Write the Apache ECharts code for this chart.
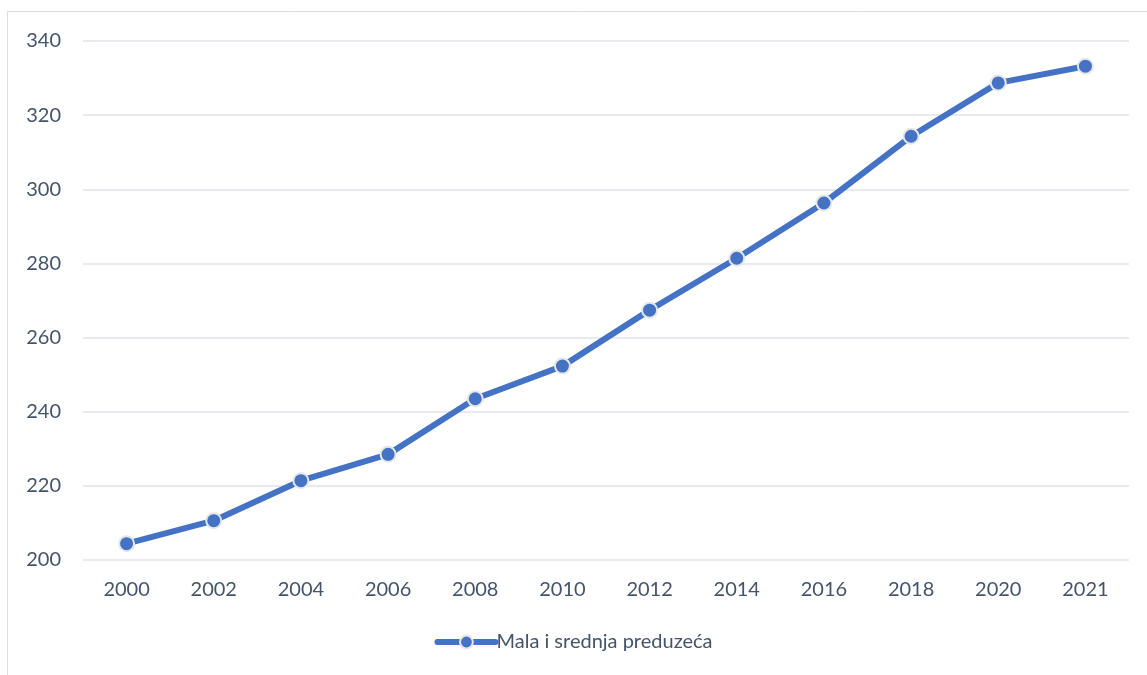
<!DOCTYPE html>
<html>
<head>
<meta charset="utf-8">
<script src="https://cdn.jsdelivr.net/npm/echarts@6/dist/echarts.min.js"></script>
<style>
html,body{margin:0;padding:0;background:#fff;}
#chart{width:1147px;height:675px;}
</style>
</head>
<body>
<div id="chart"></div>
<script>
const categories = ['2000','2002','2004','2006','2008','2010','2012','2014','2016','2018','2020','2021'];
const seriesName = 'Mala i srednja preduzeća';
const values = [204.4, 210.6, 221.4, 228.5, 243.5, 252.3, 267.4, 281.4, 296.3, 314.3, 328.7, 333.2];
const yMin = 200, yMax = 340, yStep = 20;

const textColor = '#44546A';
const lineColor = '#4472C4';
const font = 'Lato, "Open Sans", sans-serif';

const chart = echarts.init(document.getElementById('chart'));
chart.setOption({
  animation: false,
  backgroundColor: '#fff',
  graphic: [{
    type: 'rect',
    shape: {x: 7.5, y: 11.5, width: 1200, height: 700},
    style: {fill: 'none', stroke: '#d9dde3', lineWidth: 1},
    silent: true
  }],
  grid: {left: 83, right: 18, top: 41, bottom: 115},
  xAxis: {
    type: 'category',
    data: categories,
    boundaryGap: true,
    axisLine: {show: false},
    axisTick: {show: false},
    axisLabel: {color: textColor, fontSize: 20, fontFamily: font, margin: 20}
  },
  yAxis: {
    type: 'value',
    min: yMin, max: yMax, interval: yStep,
    axisLine: {show: false},
    axisTick: {show: false},
    axisLabel: {color: textColor, fontSize: 20, fontFamily: font, margin: 22},
    splitLine: {lineStyle: {color: '#dfe3ea', width: 1.5}}
  },
  legend: {
    bottom: 18,
    left: 'center',
    itemWidth: 58,
    itemHeight: 16,
    itemGap: 0,
    lineStyle: {width: 6, cap: 'round'},
    textStyle: {color: textColor, fontSize: 20, fontFamily: font, padding: [0,0,0,-4]},
    data: [seriesName]
  },
  series: [{
    name: seriesName,
    type: 'line',
    data: values,
    symbol: 'circle',
    symbolSize: 15,
    lineStyle: {color: lineColor, width: 6},
    itemStyle: {color: lineColor, borderColor: '#e6e6e6', borderWidth: 2}
  }]
});
</script>
</body>
</html>
